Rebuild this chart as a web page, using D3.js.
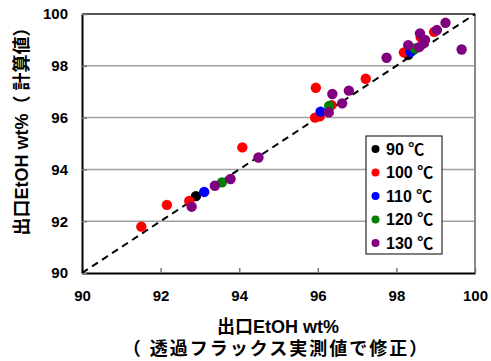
<!DOCTYPE html>
<html><head><meta charset="utf-8">
<script src="https://cdn.jsdelivr.net/npm/d3@7"></script>
<style>body{margin:0;background:#fff}svg{display:block}</style>
</head><body>
<script>
const xTicks = [90, 92, 94, 96, 98, 100];
const yTicks = [90, 92, 94, 96, 98, 100];
const seriesNames = ["90 ℃", "100 ℃", "110 ℃", "120 ℃", "130 ℃"];
const seriesColors = ["#000000", "#ff0000", "#0000ff", "#008000", "#800080"];
const s90 = [[92.90, 92.97], [98.30, 98.42]];
const s100 = [[91.51, 91.79], [92.16, 92.63], [92.73, 92.78], [94.08, 94.85], [95.93, 96.00], [96.05, 96.05], [95.95, 97.15], [96.35, 96.48], [97.22, 97.50], [98.19, 98.52], [98.62, 99.10], [98.96, 99.31]];
const s110 = [[93.11, 93.13], [96.07, 96.23], [98.36, 98.54]];
const s120 = [[93.56, 93.50], [96.29, 96.45], [98.47, 98.67]];
const s130 = [[92.79, 92.56], [93.38, 93.37], [93.78, 93.63], [94.49, 94.46], [96.28, 96.20], [96.37, 96.91], [96.62, 96.55], [96.79, 97.04], [97.75, 98.31], [98.30, 98.80], [98.60, 99.25], [98.73, 99.00], [98.69, 98.87], [98.58, 98.72], [99.03, 99.38], [99.25, 99.66], [99.66, 98.63]];
const allSeries = [s90, s100, s110, s120, s130];
const xTitle = "出口EtOH wt%";
const xTitle2 = "（ 透過フラックス実測値で修正）";
const yTitle = "出口EtOH wt%（ 計算値）";

const W = 491, H = 361;
const L = 82, R = 475, T = 14, B = 273;
const font = "'Liberation Sans', Arial, 'Noto Sans CJK JP', sans-serif";

const svg = d3.select("body").append("svg").attr("width", W).attr("height", H);
const x = d3.scaleLinear().domain([90, 100]).range([L, R]);
const y = d3.scaleLinear().domain([90, 100]).range([B, T]);

// gridlines
svg.append("g").selectAll("line").data(yTicks.filter(d => d > 90 && d < 100)).join("line")
  .attr("x1", L).attr("x2", R).attr("y1", d => y(d)).attr("y2", d => y(d))
  .attr("stroke", "#a0a0a0").attr("stroke-width", 1.5);
// top and right border
svg.append("line").attr("x1", L).attr("x2", R).attr("y1", y(100)).attr("y2", y(100)).attr("stroke", "#555").attr("stroke-width", 2);
svg.append("line").attr("x1", R).attr("x2", R).attr("y1", T).attr("y2", B).attr("stroke", "#888").attr("stroke-width", 2);

// axes
const xAxis = svg.append("g").attr("transform", `translate(0,${B})`)
  .call(d3.axisBottom(x).tickValues(xTicks).tickSizeInner(-5).tickSizeOuter(0).tickPadding(14).tickFormat(d3.format("d")));
const yAxis = svg.append("g").attr("transform", `translate(${L},0)`)
  .call(d3.axisLeft(y).tickValues(yTicks).tickSizeInner(-5).tickSizeOuter(0).tickPadding(14).tickFormat(d3.format("d")));
[xAxis, yAxis].forEach(a => {
  a.select(".domain").attr("stroke", "#000").attr("stroke-width", 2);
  a.selectAll(".tick line").attr("stroke", "#777").attr("stroke-width", 1.5);
  a.selectAll("text").attr("font-family", font).attr("font-weight", "bold").attr("font-size", 15).attr("fill", "#000");
});
xAxis.selectAll("text").attr("dy", "0.9em");

// diagonal
svg.append("line").attr("x1", x(90)).attr("y1", y(90)).attr("x2", x(100)).attr("y2", y(100))
  .attr("stroke", "#000").attr("stroke-width", 2).attr("stroke-dasharray", "7,5");

// points
allSeries.forEach((s, i) => {
  svg.append("g").selectAll("circle").data(s).join("circle")
    .attr("cx", d => x(d[0])).attr("cy", d => y(d[1])).attr("r", 5.2)
    .attr("fill", seriesColors[i]);
});

// legend
const lg = svg.append("g");
lg.append("rect").attr("x", 366).attr("y", 136).attr("width", 76).attr("height", 118)
  .attr("fill", "#fff").attr("stroke", "#000").attr("stroke-width", 1);
seriesNames.forEach((n, i) => {
  const cy = 149 + i * 23.5;
  lg.append("circle").attr("cx", 375.5).attr("cy", cy).attr("r", 4).attr("fill", seriesColors[i]);
  lg.append("text").attr("x", 386).attr("y", cy).attr("dy", "0.36em").text(n)
    .attr("font-family", font).attr("font-weight", "bold").attr("font-size", 16);
});

// titles
svg.append("text").attr("x", 278).attr("y", 327).attr("dy", "0.36em").attr("text-anchor", "middle")
  .attr("font-family", font).attr("font-weight", "bold").attr("font-size", 18).text(xTitle);
svg.append("text").attr("x", 276).attr("y", 349).attr("dy", "0.36em").attr("text-anchor", "middle")
  .attr("font-family", font).attr("font-weight", "bold").attr("font-size", 18).attr("letter-spacing", 2).text(xTitle2);
svg.append("text").attr("transform", "translate(22,127) rotate(-90)").attr("dy", "0.36em").attr("text-anchor", "middle")
  .attr("font-family", font).attr("font-weight", "bold").attr("font-size", 18).text(yTitle);
</script>
</body></html>
